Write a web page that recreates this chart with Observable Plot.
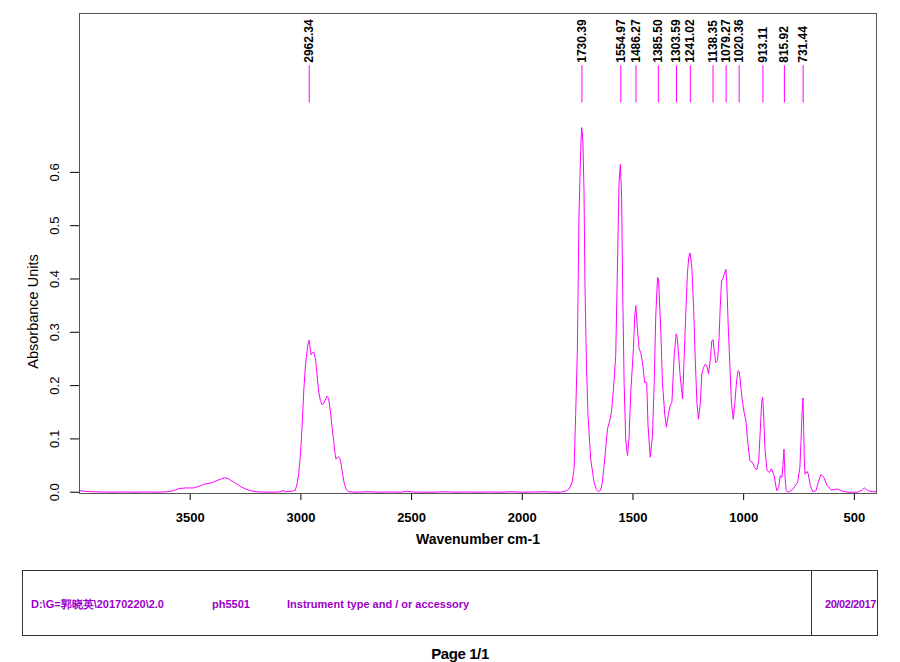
<!DOCTYPE html>
<html>
<head>
<meta charset="utf-8">
<script src="https://cdn.jsdelivr.net/npm/d3@7"></script>
<script src="https://cdn.jsdelivr.net/npm/@observablehq/plot@0.6"></script>
<style>
  html, body { margin: 0; padding: 0; background: #fff; }
  body { width: 900px; height: 662px; overflow: hidden; font-family: "Liberation Sans", Arial, sans-serif; }
  #chart { height: 560px; }
  #chart svg { display: block; }
  #footer { position: relative; width: 900px; height: 102px; }
  .box { position: absolute; border: 1px solid #333; box-sizing: border-box; }
  .ft { position: absolute; font-size: 11px; line-height: 13px; font-weight: bold; color: #9a00c8; white-space: nowrap; }
</style>
</head>
<body>
<div id="chart"></div>
<div id="footer"></div>
<script>
// Spectrum (wavenumber cm-1, absorbance units)
const wavenumbers = [
  4000,3980,3950,3900,3850,3800,3750,3700,3650,3600,3575,3550,3520,3485,3460,3440,3410,3395,3379,3360,
  3346,3330,3319,3300,3274,3250,3229,3200,3153,3100,3080,3070,3040,3025,3017,3010,3002,2995,2987,2980,
  2975,2968,2963,2958,2954,2948,2942,2934,2927,2920,2912,2904,2897,2891,2882,2875,2867,2860,2852,2845,
  2841,2835,2830,2824,2819,2812,2804,2795,2784,2750,2700,2650,2600,2550,2520,2500,2450,2400,2350,2300,
  2250,2200,2150,2100,2050,2000,1950,1900,1850,1827,1800,1789,1775,1766,1759,1751,1744,1736,1732,1729,
  1726,1721,1717,1710,1703,1691,1676,1665,1656,1646,1638,1626,1615,1605,1597,1588,1578,1570,1563,1557,
  1553,1551,1547,1540,1533,1525,1518,1510,1498,1492,1487,1480,1472,1465,1457,1447,1438,1432,1422,1412,
  1404,1397,1389,1385,1382,1374,1367,1356,1349,1341,1332,1324,1314,1305,1300,1296,1287,1276,1269,1261,
  1254,1248,1242,1234,1226,1219,1211,1204,1196,1189,1181,1174,1166,1159,1151,1144,1138,1133,1126,1118,
  1111,1106,1100,1094,1088,1080,1076,1070,1062,1055,1047,1040,1032,1025,1020,1017,1008,998,990,982,
  972,960,952,941,932,925,919,914,910,904,895,884,874,862,855,850,842,835,827,822,
  818,813,808,799,779,756,746,741,736,732,729,726,723,714,708,699,688,673,663,651,
  645,638,623,605,575,560,530,485,465,455,448,440,417,400
];
const absorbance = [
  0.003,0.002,0.001,0.0005,0.0,0.0005,0.0,0.0005,0.0,0.001,0.003,0.007,0.008,0.008,0.011,0.015,0.017,0.019,0.022,0.025,
  0.027,0.026,0.023,0.018,0.011,0.006,0.003,0.001,0.0,0.0005,0.003,0.001,0.002,0.004,0.016,0.035,0.07,0.12,0.19,0.235,
  0.255,0.278,0.285,0.27,0.258,0.262,0.263,0.25,0.22,0.19,0.172,0.164,0.166,0.172,0.18,0.176,0.153,0.125,0.097,0.07,
  0.062,0.065,0.067,0.063,0.055,0.035,0.016,0.005,0.001,0.0,0.001,0.0,0.0005,0.0,0.002,0.0005,0.0,0.0,0.001,0.0,
  0.0005,0.0,0.0005,0.0,0.001,0.0,0.0005,0.001,0.0,0.0,0.003,0.006,0.018,0.044,0.144,0.269,0.518,0.643,0.684,0.675,
  0.655,0.562,0.393,0.237,0.144,0.0625,0.019,0.005,0.001,0.004,0.019,0.069,0.119,0.134,0.15,0.194,0.256,0.425,0.58,0.615,
  0.575,0.549,0.393,0.206,0.1,0.069,0.1,0.187,0.269,0.331,0.35,0.306,0.269,0.262,0.243,0.206,0.206,0.125,0.0655,0.106,
  0.206,0.331,0.403,0.4,0.375,0.3,0.206,0.144,0.122,0.144,0.162,0.169,0.256,0.297,0.29,0.269,0.219,0.175,0.25,0.34,
  0.41,0.44,0.449,0.421,0.346,0.253,0.166,0.137,0.166,0.222,0.234,0.24,0.237,0.222,0.247,0.284,0.286,0.265,0.243,0.247,
  0.29,0.346,0.396,0.4,0.409,0.418,0.39,0.315,0.234,0.166,0.137,0.166,0.209,0.228,0.226,0.215,0.178,0.15,0.134,0.097,
  0.059,0.056,0.047,0.042,0.059,0.116,0.166,0.178,0.147,0.084,0.041,0.037,0.044,0.031,0.012,0.003,0.009,0.031,0.028,0.053,
  0.081,0.028,0.003,0.0,0.005,0.019,0.047,0.097,0.15,0.177,0.12,0.06,0.034,0.039,0.034,0.0125,0.001,0.003,0.019,0.033,
  0.031,0.028,0.0125,0.0045,0.006,0.003,0.0,0.0,0.004,0.008,0.006,0.003,0.001,0.001
];
// Labelled peaks
const peaks = [2962.34, 1730.39, 1554.97, 1486.27, 1385.50, 1303.59, 1241.02, 1138.35, 1079.27, 1020.36, 913.11, 815.92, 731.44];
// Axes
const xTicks = [3500, 3000, 2500, 2000, 1500, 1000, 500];
const yTicks = [0.0, 0.1, 0.2, 0.3, 0.4, 0.5, 0.6];
const xLabel = "Wavenumber cm-1";
const yLabel = "Absorbance Units";
// Footer texts
const footerPath = "D:\\G=郭晓英\\20170220\\2.0";
const footerSample = "ph5501";
const footerInstrument = "Instrument type and / or accessory";
const footerDate = "20/02/2017";
const pageLabel = "Page 1/1";

const spectrum = wavenumbers.map((w, i) => ({wn: w, a: absorbance[i]}));
const magenta = "#ff00ff";

const chart = Plot.plot({
  width: 900,
  height: 560,
  marginTop: 13,
  marginLeft: 79,
  marginRight: 24,
  marginBottom: 67,
  style: {fontFamily: "'Liberation Sans', Arial, sans-serif", background: "#fff", color: "#000"},
  x: {domain: [4000, 400]},
  y: {domain: [-0.0024, 0.898]},
  marks: [
    Plot.axisX({ticks: xTicks, tickFormat: d => String(d), tickSize: 7, tickPadding: 12, fontSize: 13, fontWeight: "bold", label: null}),
    Plot.axisY({ticks: yTicks, tickFormat: d => d.toFixed(1), tickSize: 9, tickPadding: 12, tickRotate: -90, fontSize: 13, label: null}),
    Plot.line(spectrum, {x: "wn", y: "a", stroke: magenta, strokeWidth: 1}),
    Plot.ruleX(peaks, {x: d => d, y1: 0.73, y2: 0.80, stroke: magenta, strokeWidth: 1}),
    Plot.text(peaks, {x: d => d, y: 0.80, text: d => d.toFixed(2), rotate: -90, textAnchor: "start", dy: -3, fontSize: 12, fontWeight: "bold", fill: "#000"}),
    Plot.text([xLabel], {frameAnchor: "bottom", dy: 50, text: d => d, fontSize: 14, fontWeight: "bold", fill: "#000"}),
    Plot.text([yLabel], {frameAnchor: "left", textAnchor: "middle", dx: -46, dy: 58, rotate: -90, text: d => d, fontSize: 14.5, fill: "#000"}),
    Plot.frame({stroke: "#555", strokeWidth: 1})
  ]
});
document.getElementById("chart").appendChild(chart);

const footer = document.getElementById("footer");
function addDiv(cls, styles, text) {
  const el = document.createElement("div");
  el.className = cls;
  Object.assign(el.style, styles);
  if (text != null) el.textContent = text;
  footer.appendChild(el);
  return el;
}
addDiv("box", {left: "22px", top: "10px", width: "856px", height: "66px"});
addDiv("box", {left: "811px", top: "10px", width: "1px", height: "66px", borderWidth: "0 0 0 1px"});
addDiv("ft", {left: "31px", top: "38px"}, footerPath);
addDiv("ft", {left: "212px", top: "38px"}, footerSample);
addDiv("ft", {left: "287px", top: "38px"}, footerInstrument);
addDiv("ft", {left: "814px", top: "38px", width: "62px", textAlign: "right", letterSpacing: "-0.4px"}, footerDate);
addDiv("", {position: "absolute", left: "0", top: "85px", width: "920px", textAlign: "center", fontSize: "15px", lineHeight: "17px", fontWeight: "bold", color: "#000", letterSpacing: "-0.4px"}, pageLabel);
</script>
</body>
</html>
